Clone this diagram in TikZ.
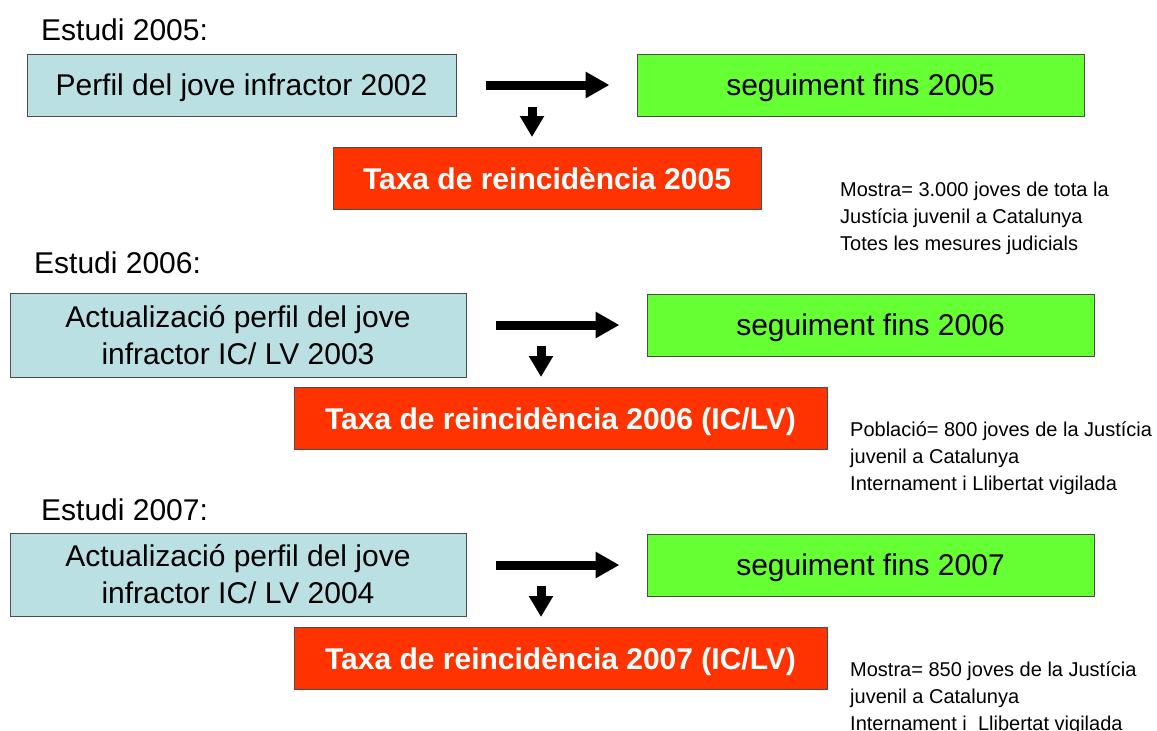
\documentclass[tikz,border=0pt]{standalone}
\usepackage{fontspec}
\setmainfont{Liberation Sans}
\usetikzlibrary{calc,arrows.meta}
\definecolor{blau}{RGB}{187,224,227}
\definecolor{verd}{RGB}{102,255,51}
\definecolor{vermell}{RGB}{255,51,0}
\begin{document}
\begin{tikzpicture}[x=1pt,y=-1pt,
		caixa/.style={draw=black!70,line width=1pt,inner sep=0pt,align=center,minimum height=62pt,font=\fontsize{30}{37}\selectfont},
		perfil/.style={caixa,fill=blau},
		segui/.style={caixa,fill=verd,minimum width=447pt,text depth=0pt},
		taxa/.style={caixa,fill=vermell,text=white,text depth=0pt,font=\fontsize{30}{37}\selectfont\bfseries},
		titol/.style={anchor=base west,inner sep=0pt,font=\fontsize{30}{37}\selectfont},
		nota/.style={anchor=north west,inner sep=0pt,align=left,font=\fontsize{20}{27}\selectfont},
		fletxa/.style={line width=9pt,-{Triangle[width=25pt,length=24pt]}},
		baixa/.style={line width=9pt,-{Triangle[width=23pt,length=21pt]}}]
			\useasboundingbox[fill=white](0,0) rectangle (1157,731);
			
			\node[titol](E1) at(41,40){Estudi 2005:};
			\node[perfil,minimum width=429pt,text depth=0pt](P1) at(241.5,85){Perfil del jove infractor 2002};
			\node[segui](S1) at(860.5,85){seguiment fins 2005};
			\node[taxa,minimum width=428pt](T1) at(547,178.5){Taxa de reincidència 2005};
			\node[nota](M1) at(840,182){Mostra= 3.000 joves de tota la\\Justícia juvenil a Catalunya\\Totes les mesures judicials};
			\draw[fletxa]($(P1.east |- S1.west)+(29,0)$) -- ($(S1.west)+(-27,0)$);
			\draw[baixa]($(T1.north)+(-15,-40)$) -- ($(T1.north)+(-15,-10)$);
			
			\node[titol](E2) at(34,273){Estudi 2006:};
			\node[perfil,minimum width=456pt,minimum height=84pt](P2) at(238,335){Actualizació perfil del jove\\infractor IC/ LV 2003};
			\node[segui](S2) at(870.5,325){seguiment fins 2006};
			\node[taxa,minimum width=533pt](T2) at(560.5,418.5){Taxa de reincidència 2006 (IC/LV)};
			\node[nota](M2) at(850,422){Població= 800 joves de la Justícia\\juvenil a Catalunya\\Internament i Llibertat vigilada};
			\draw[fletxa]($(P2.east |- S2.west)+(29,0)$) -- ($(S2.west)+(-27,0)$);
			\draw[baixa]($(T2.north)+(-19.5,-41)$) -- ($(T2.north)+(-19.5,-10)$);
			
			\node[titol](E3) at(41,520){Estudi 2007:};
			\node[perfil,minimum width=456pt,minimum height=83pt](P3) at(238,574.5){Actualizació perfil del jove\\infractor IC/ LV 2004};
			\node[segui](S3) at(870.5,565){seguiment fins 2007};
			\node[taxa,minimum width=533pt](T3) at(560.5,658.5){Taxa de reincidència 2007 (IC/LV)};
			\node[nota](M3) at(850,662){Mostra= 850 joves de la Justícia\\juvenil a Catalunya\\Internament i \ Llibertat vigilada};
			\draw[fletxa]($(P3.east |- S3.west)+(29,0)$) -- ($(S3.west)+(-27,0)$);
			\draw[baixa]($(T3.north)+(-19.5,-41)$) -- ($(T3.north)+(-19.5,-10)$);
		\end{tikzpicture}
\end{document}
